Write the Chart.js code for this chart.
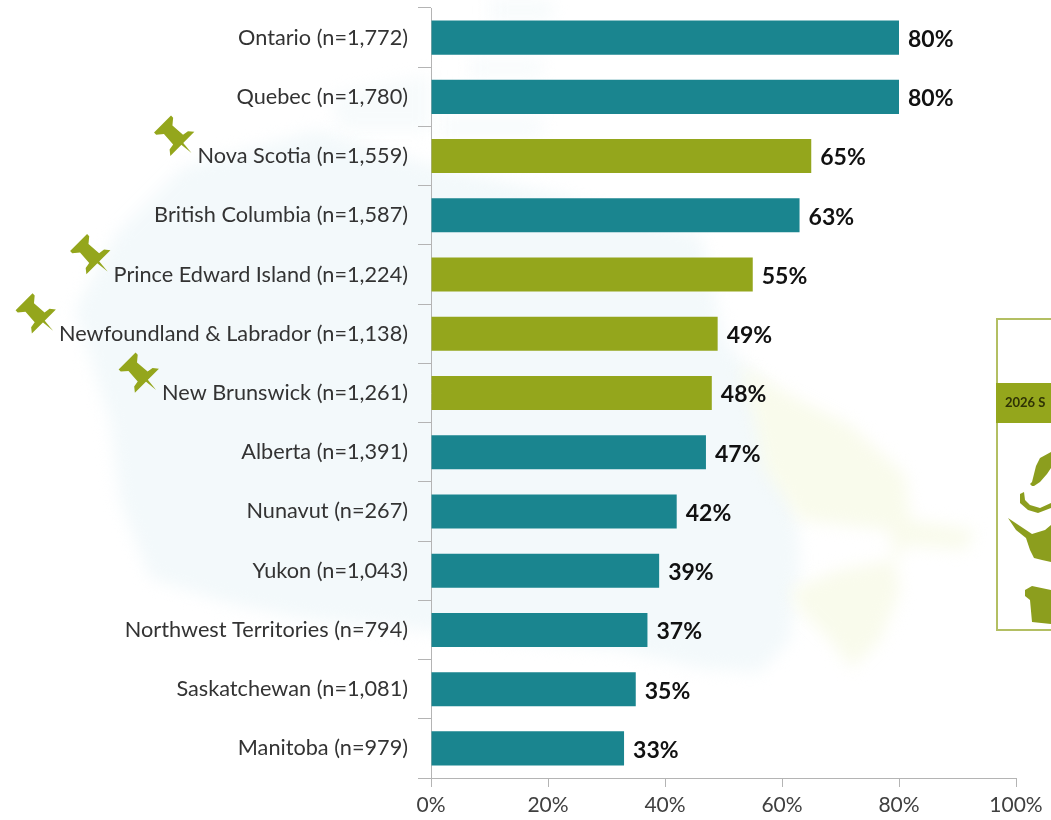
<!DOCTYPE html>
<html>
<head>
<meta charset="utf-8">
<script src="https://cdn.jsdelivr.net/npm/chart.js@4"></script>
<style>html,body{margin:0;padding:0;background:#fff}#wrap{width:1051px;height:820px;position:relative;overflow:hidden}canvas{display:block}</style>
</head>
<body>
<div id="wrap"><canvas id="c" width="1051" height="820"></canvas></div>
<script>
const categories = ["Ontario (n=1,772)","Quebec (n=1,780)","Nova Scotia (n=1,559)","British Columbia (n=1,587)","Prince Edward Island (n=1,224)","Newfoundland & Labrador (n=1,138)","New Brunswick (n=1,261)","Alberta (n=1,391)","Nunavut (n=267)","Yukon (n=1,043)","Northwest Territories (n=794)","Saskatchewan (n=1,081)","Manitoba (n=979)"];
const values = [80,80,65,63,55,49,48,47,42,39,37,35,33];
const pinned = [false,false,true,false,true,true,true,false,false,false,false,false,false];
const xTicks = [0,20,40,60,80,100];
const TEAL = "#1a858f", OLIVE = "#94a61c";
const FONT = "Lato, 'Open Sans', sans-serif";
const LABEL_SIZE = 21.7;

const mapTeal = [[317,130],[431,165],[560,195],[700,235],[725,340],[790,420],[800,560],[790,640],[760,672],[700,668],[620,650],[500,640],[400,628],[300,618],[227,603],[150,578],[120,500],[110,420],[75,310],[117,233],[183,167]];
const mapPatches = [[[490,0],[550,0],[555,20],[490,20]],[[470,60],[545,60],[540,76],[470,76]],[[440,118],[545,118],[540,136],[440,136]],[[330,95],[430,75],[430,130],[340,130]]];
const mapGreen = [[740,365],[790,395],[850,425],[905,475],[910,520],[975,530],[965,550],[905,545],[895,565],[900,590],[880,640],[852,668],[830,640],[800,610],[790,590],[840,570],[895,560],[890,530],[800,520],[765,470],[755,420]];

function poly(ctx, pts){ ctx.beginPath(); pts.forEach((p,i)=> i?ctx.lineTo(p[0],p[1]):ctx.moveTo(p[0],p[1])); ctx.closePath(); ctx.fill(); }

const backdrop = {
  id:"backdrop",
  beforeDraw(chart){
    const ctx = chart.ctx; ctx.save();
    ctx.fillStyle="#fff"; ctx.fillRect(0,0,1051,820);
    ctx.filter="blur(8px)";
    ctx.fillStyle="#f3f9fb"; poly(ctx,mapTeal);
    ctx.fillStyle="#f7fbfc"; mapPatches.forEach(p=>poly(ctx,p));
    ctx.fillStyle="#f9fbec"; poly(ctx,mapGreen);
    ctx.filter="none";
    ctx.restore();
  },
  afterDraw(chart){
    const ctx = chart.ctx; ctx.save();
    // inset panel, cropped by the right edge of the picture
    ctx.fillStyle="#fff"; ctx.fillRect(996,318,60,313);
    ctx.strokeStyle="#b3bf63"; ctx.lineWidth=2; ctx.strokeRect(997,319,80,311);
    ctx.fillStyle=OLIVE; ctx.fillRect(996,383,60,40);
    ctx.fillStyle="#2e3205"; ctx.font="bold 13px "+FONT; ctx.textBaseline="middle"; ctx.textAlign="left";
    ctx.fillText("2026 S",1005,403);
    ctx.fillStyle="#8c9e1e";
    poly(ctx,[[1051,452],[1040,458],[1036,466],[1032,482],[1030,484],[1032,486],[1034,486],[1040,482],[1047,474],[1051,468]]);
    poly(ctx,[[1020,494],[1024,492],[1025,500],[1030,505],[1040,508],[1051,503],[1051,508],[1038,513],[1028,510],[1020,503]]);
    poly(ctx,[[1008,518],[1020,526],[1032,534],[1045,530],[1051,525],[1051,562],[1042,560],[1034,558],[1030,550],[1026,538],[1016,530]]);
    poly(ctx,[[1025,590],[1032,586],[1051,590],[1051,624],[1032,622],[1030,600],[1025,596]]);
    ctx.restore();
    // push-pins, placed just left of the labels they flag
    const y = chart.scales.y;
    ctx.save();
    ctx.font = LABEL_SIZE+"px "+FONT;
    categories.forEach((c,i)=>{
      if(!pinned[i]) return;
      const w = ctx.measureText(c).width;
      const tx = 408 - w - 6, ty = y.getPixelForValue(i) - 3;
      ctx.save(); ctx.translate(tx,ty); ctx.rotate(-Math.PI/4);
      ctx.fillStyle=OLIVE;
      poly(ctx,[[0,0],[1.4,-14],[-1.4,-14]]);
      poly(ctx,[[-17,-13],[17,-13],[13,-18],[7,-19],[6,-33],[12,-38],[12,-41],[-12,-41],[-12,-38],[-6,-33],[-7,-19],[-13,-18]]);
      ctx.restore();
    });
    ctx.restore();
  }
};

const valueLabels = {
  id:"valueLabels",
  afterDatasetsDraw(chart){
    const ctx = chart.ctx; ctx.save();
    ctx.font="bold 23px "+FONT; ctx.fillStyle="#111"; ctx.textAlign="left"; ctx.textBaseline="middle";
    chart.getDatasetMeta(0).data.forEach((b,i)=> ctx.fillText(values[i]+"%", b.x+9, b.y+2));
    ctx.restore();
  }
};

Chart.defaults.font.family = FONT;
new Chart(document.getElementById("c"),{
  type:"bar",
  data:{labels:categories,datasets:[{data:values,backgroundColor:pinned.map(p=>p?OLIVE:TEAL),borderWidth:0,categoryPercentage:1,barPercentage:0.575}]},
  plugins:[backdrop,valueLabels],
  options:{
    indexAxis:"y",responsive:false,animation:false,
    layout:{autoPadding:false,padding:{top:8,right:35,left:0,bottom:0}},
    plugins:{legend:{display:false},tooltip:{enabled:false}},
    scales:{
      x:{min:0,max:100,afterFit(s){s.height=42;s.paddingLeft=0;s.paddingRight=0;},
        afterBuildTicks(s){s.ticks=xTicks.map(v=>({value:v}));},
        grid:{drawOnChartArea:false,color:"#b4b4b4",tickLength:9},border:{color:"#b4b4b4"},
        ticks:{callback:v=>v+"%",color:"#404040",font:{size:21},padding:6,maxRotation:0}},
      y:{afterFit(s){s.width=431;s.paddingTop=0;s.paddingBottom=0;},
        grid:{drawOnChartArea:false,offset:true,color:"#b4b4b4",tickLength:13},border:{color:"#b4b4b4"},
        ticks:{color:"#333",font:{size:LABEL_SIZE},padding:10,autoSkip:false}}
    }
  }
});
</script>
</body>
</html>
